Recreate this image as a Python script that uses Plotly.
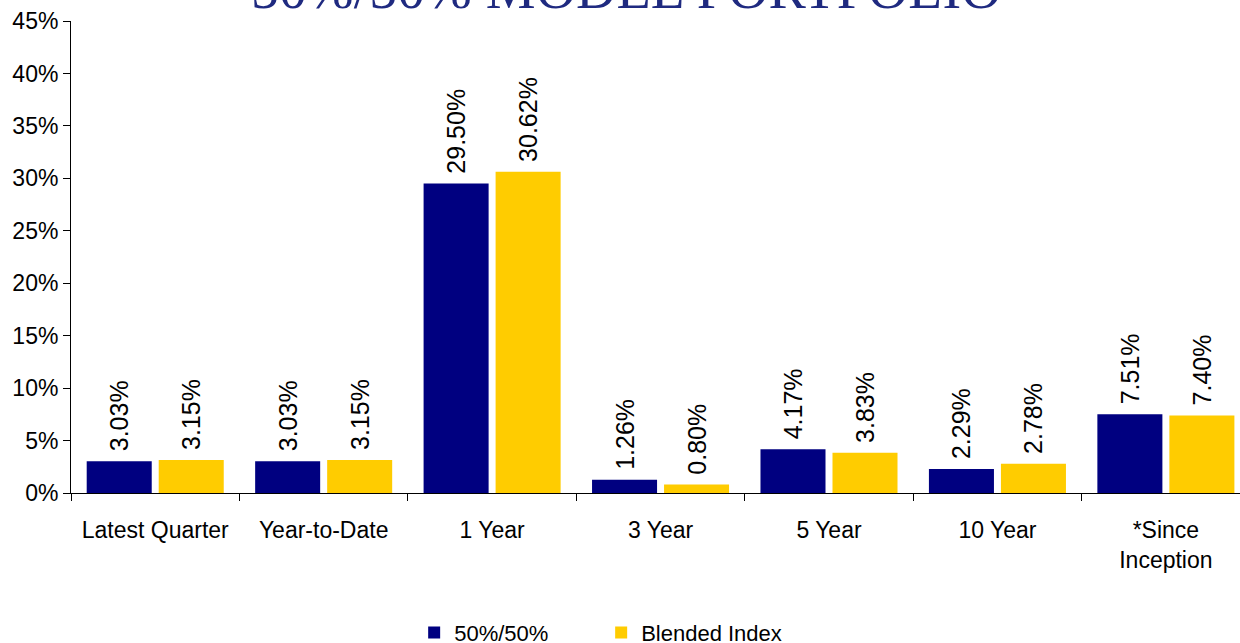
import plotly.graph_objects as go

categories = ["Latest Quarter", "Year-to-Date", "1 Year", "3 Year", "5 Year", "10 Year", "*Since<br>Inception"]
portfolio = [3.03, 3.03, 29.50, 1.26, 4.17, 2.29, 7.51]
blended = [3.15, 3.15, 30.62, 0.80, 3.83, 2.78, 7.40]
series_names = ["50%/50%", "Blended Index"]
y_ticks = [0, 5, 10, 15, 20, 25, 30, 35, 40, 45]
title_text = "50%/50% MODEL PORTFOLIO"

FONT = "Liberation Sans, Arial, sans-serif"
colors = ["#000080", "#FFCC00"]

fig = go.Figure()
for name, vals, col in zip(series_names, [portfolio, blended], colors):
    fig.add_trace(go.Bar(
        x=categories, y=vals, name=name,
        marker=dict(color=col, line=dict(width=0)),
        text=[f"\u00a0{v:.2f}%" for v in vals],
        textposition="outside", textangle=-90,
        textfont=dict(family=FONT, size=25, color="black"),
        constraintext="none", cliponaxis=False,
    ))

fig.update_layout(
    width=1240, height=643,
    margin=dict(l=71, r=0, t=21, b=150, autoexpand=False),
    paper_bgcolor="white", plot_bgcolor="white",
    barmode="group", bargap=0.145, bargroupgap=0.097,
    font=dict(family=FONT, size=23, color="black"),
    showlegend=True,
    legend=dict(orientation="h", xref="container", yref="container",
                x=0.334, xanchor="left", y=0.016, yanchor="middle",
                font=dict(size=22), entrywidth=142, entrywidthmode="pixels",
                itemwidth=30, tracegroupgap=0),
    xaxis=dict(range=[-0.5, 6.44], showline=True, linecolor="black", linewidth=1,
               ticks="outside", ticklen=7, tickcolor="black", tickson="boundaries",
               showgrid=False, ticklabelstandoff=16, tickfont=dict(size=23),
               automargin=False),
    yaxis=dict(range=[0, 45], tickvals=y_ticks, ticktext=[f"{t}%" for t in y_ticks],
               showline=True, linecolor="black", linewidth=1,
               ticks="outside", ticklen=7, tickcolor="black",
               showgrid=False, zeroline=False, tickfont=dict(size=23),
               automargin=False),
    annotations=[dict(text=title_text, xref="paper", yref="paper", x=0.475, y=1.068,
                      xanchor="center", yanchor="middle", showarrow=False,
                      font=dict(family="Liberation Serif, Times New Roman, serif", size=56, color="#1F2A80"))],
)

fig.write_html("out.html", config={"displayModeBar": False},
               post_script="document.body.style.margin='0';document.body.style.overflow='hidden';")
